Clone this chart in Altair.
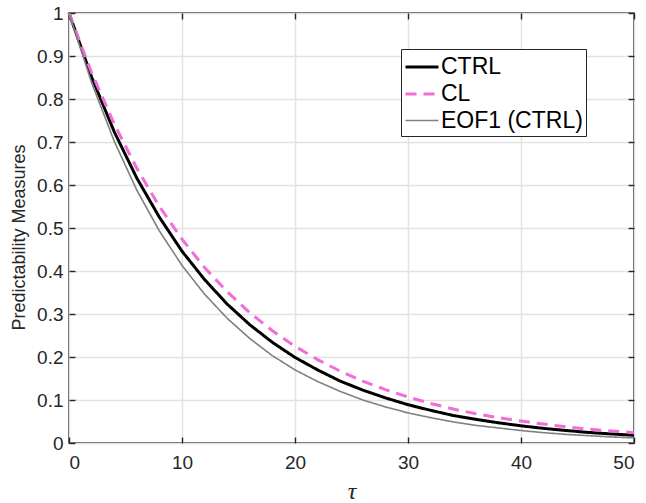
import altair as alt
import pandas as pd

# Lag axis (tau) sample points
tau = [0, 2, 4, 6, 8, 10, 12, 14, 16, 18, 20, 22, 24, 26, 28, 30,
       32, 34, 36, 38, 40, 42, 44, 46, 48, 50]

# Predictability measures for each run
ctrl = [1.0, 0.851, 0.724, 0.616, 0.525, 0.446, 0.380, 0.323, 0.275, 0.234,
        0.199, 0.170, 0.144, 0.123, 0.105, 0.089, 0.076, 0.064, 0.055, 0.047,
        0.040, 0.034, 0.029, 0.0245, 0.021, 0.018]
cl = [1.0, 0.861, 0.742, 0.639, 0.550, 0.474, 0.408, 0.352, 0.303, 0.261,
      0.225, 0.194, 0.167, 0.144, 0.124, 0.107, 0.092, 0.079, 0.068, 0.059,
      0.051, 0.044, 0.0375, 0.032, 0.028, 0.024]
eof1 = [1.0, 0.838, 0.702, 0.588, 0.493, 0.413, 0.346, 0.290, 0.243, 0.203,
        0.170, 0.143, 0.120, 0.100, 0.084, 0.070, 0.059, 0.049, 0.041, 0.035,
        0.029, 0.024, 0.020, 0.017, 0.014, 0.012]

series_names = ["CTRL", "CL", "EOF1 (CTRL)"]
series_colors = ["#000000", "#f26dd7", "#808080"]
series_dash = [[1, 0], [11, 7], [1, 0]]
series_width = [3, 3, 1.6]

x_ticks = [0, 10, 20, 30, 40, 50]
y_ticks = [0, 0.1, 0.2, 0.3, 0.4, 0.5, 0.6, 0.7, 0.8, 0.9, 1]

rows = []
for name, vals in zip(series_names, [ctrl, cl, eof1]):
    for t, v in zip(tau, vals):
        rows.append({"tau": t, "value": v, "series": name})
df = pd.DataFrame(rows)

FONT = "Liberation Sans"
INK = "#262626"

x_scale = alt.Scale(domain=[0, 50], nice=False, zero=False)
y_scale = alt.Scale(domain=[0, 1], nice=False, zero=False)

x_axis = alt.Axis(
    values=x_ticks, orient="bottom", offset=-6, tickSize=6, domain=False,
    grid=True, labelPadding=10, title="τ", titleFont="Liberation Serif",
    titleFontStyle="italic", titleFontWeight="normal", titleFontSize=24,
    titlePadding=7,
)
y_axis = alt.Axis(
    values=y_ticks, orient="left", offset=-6, tickSize=6, domain=False,
    grid=True, labelPadding=6, format="~g", title="Predictability Measures",
    titleFontWeight="normal", titleFontSize=18, titlePadding=8, titleY=224,
)

legend_common = dict(title=None, orient="none", legendX=332, legendY=36)

# legend key: a short horizontal stroke, offset so the text sits further right
key_path = "M-1,0H1.44"

lines = alt.Chart(df).mark_line(strokeCap="butt").encode(
    x=alt.X("tau:Q", scale=x_scale, axis=x_axis),
    y=alt.Y("value:Q", scale=y_scale, axis=y_axis),
    color=alt.Color(
        "series:N",
        scale=alt.Scale(domain=series_names, range=series_colors),
        legend=alt.Legend(
            strokeColor=INK, fillColor="white", padding=3,
            symbolType=key_path, symbolSize=729, symbolFillColor="transparent",
            labelFontSize=23, labelFont=FONT, labelColor="#000000",
            labelOffset=7, rowPadding=-3, labelLimit=300, **legend_common,
        ),
    ),
    strokeDash=alt.StrokeDash(
        "series:N",
        scale=alt.Scale(domain=series_names, range=series_dash),
        legend=alt.Legend(**legend_common),
    ),
    strokeWidth=alt.StrokeWidth(
        "series:N",
        scale=alt.Scale(type="ordinal", domain=series_names, range=series_width),
        legend=alt.Legend(**legend_common),
    ),
    order=alt.Order("tau:Q"),
)

# Inward ticks along the top and right edges of the box
frame = alt.Chart(df).mark_point(opacity=0).encode(
    x=alt.X("tau:Q", scale=x_scale, axis=alt.Axis(
        values=x_ticks, orient="top", offset=-6, tickSize=6, domain=False,
        grid=False, labels=False, title=None)),
    y=alt.Y("value:Q", scale=y_scale, axis=alt.Axis(
        values=y_ticks, orient="right", offset=-6, tickSize=6, domain=False,
        grid=False, labels=False, title=None)),
)

chart = alt.layer(lines, frame).resolve_axis(
    x="independent", y="independent"
).properties(
    width=565, height=430,
    autosize=alt.AutoSizeParams(type="none"),
    padding={"left": 69, "top": 13, "right": 12, "bottom": 60},
).configure_view(
    stroke=INK, strokeWidth=1.6,
).configure_axis(
    labelFont=FONT, labelFontSize=19, labelColor=INK,
    titleFont=FONT, titleColor=INK,
    tickColor=INK, tickWidth=1.4,
    gridColor="#e3e3e3", gridWidth=1.5,
)

chart.save("out.html", embed_options={"renderer": "svg", "actions": False})
